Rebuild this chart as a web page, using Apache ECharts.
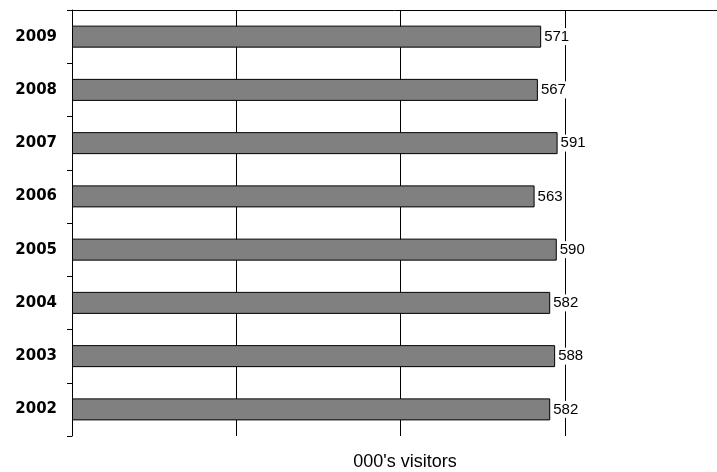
<!DOCTYPE html>
<html>
<head><meta charset="UTF-8"><title>Visitors</title>
<script src="https://cdn.jsdelivr.net/npm/echarts@6/dist/echarts.min.js"></script>
</head>
<body style="margin:0">
<div id="main" style="width:717px;height:472px;"></div>
<script>
    let years = ['2002', '2003', '2004', '2005', '2006', '2007', '2008', '2009'];
    let visitors = [582, 588, 582, 590, 563, 591, 567, 571];
    let axisLabel = "000's visitors";

    let chart = echarts.init(document.getElementById('main'));
    chart.setOption({
      animation: false,
      title: {
        text: axisLabel, left: 400, top: 448, textAlign: 'center',
        textStyle: { fontFamily: 'Arial', fontSize: 18, fontWeight: 'normal', color: '#000' }
      },
      grid: { left: 72, top: 10, right: 0, height: 426 },
      xAxis: {
        type: 'value', position: 'top', min: 0, max: 785, interval: 200,
        axisLine: { show: true, lineStyle: { color: '#000' } },
        axisTick: { show: false }, axisLabel: { show: false },
        splitLine: { lineStyle: { color: '#000' } }
      },
      yAxis: {
        type: 'category', data: years,
        axisLine: { lineStyle: { color: '#000' } },
        axisTick: { show: true, length: 5, lineStyle: { color: '#000' } },
        axisLabel: { color: '#000', fontFamily: 'DejaVu Sans', fontWeight: 'bold', fontSize: 15, margin: 15 }
      },
      series: [{
        type: 'bar', data: visitors, barWidth: 22,
        itemStyle: { color: '#808080', borderColor: '#000', borderWidth: 1 },
        label: { show: true, position: 'right', distance: 2, color: '#000', fontFamily: 'Arial', fontSize: 15,
                 backgroundColor: '#fff', padding: [1, 1] }
      }]
    });
</script>
</body>
</html>
